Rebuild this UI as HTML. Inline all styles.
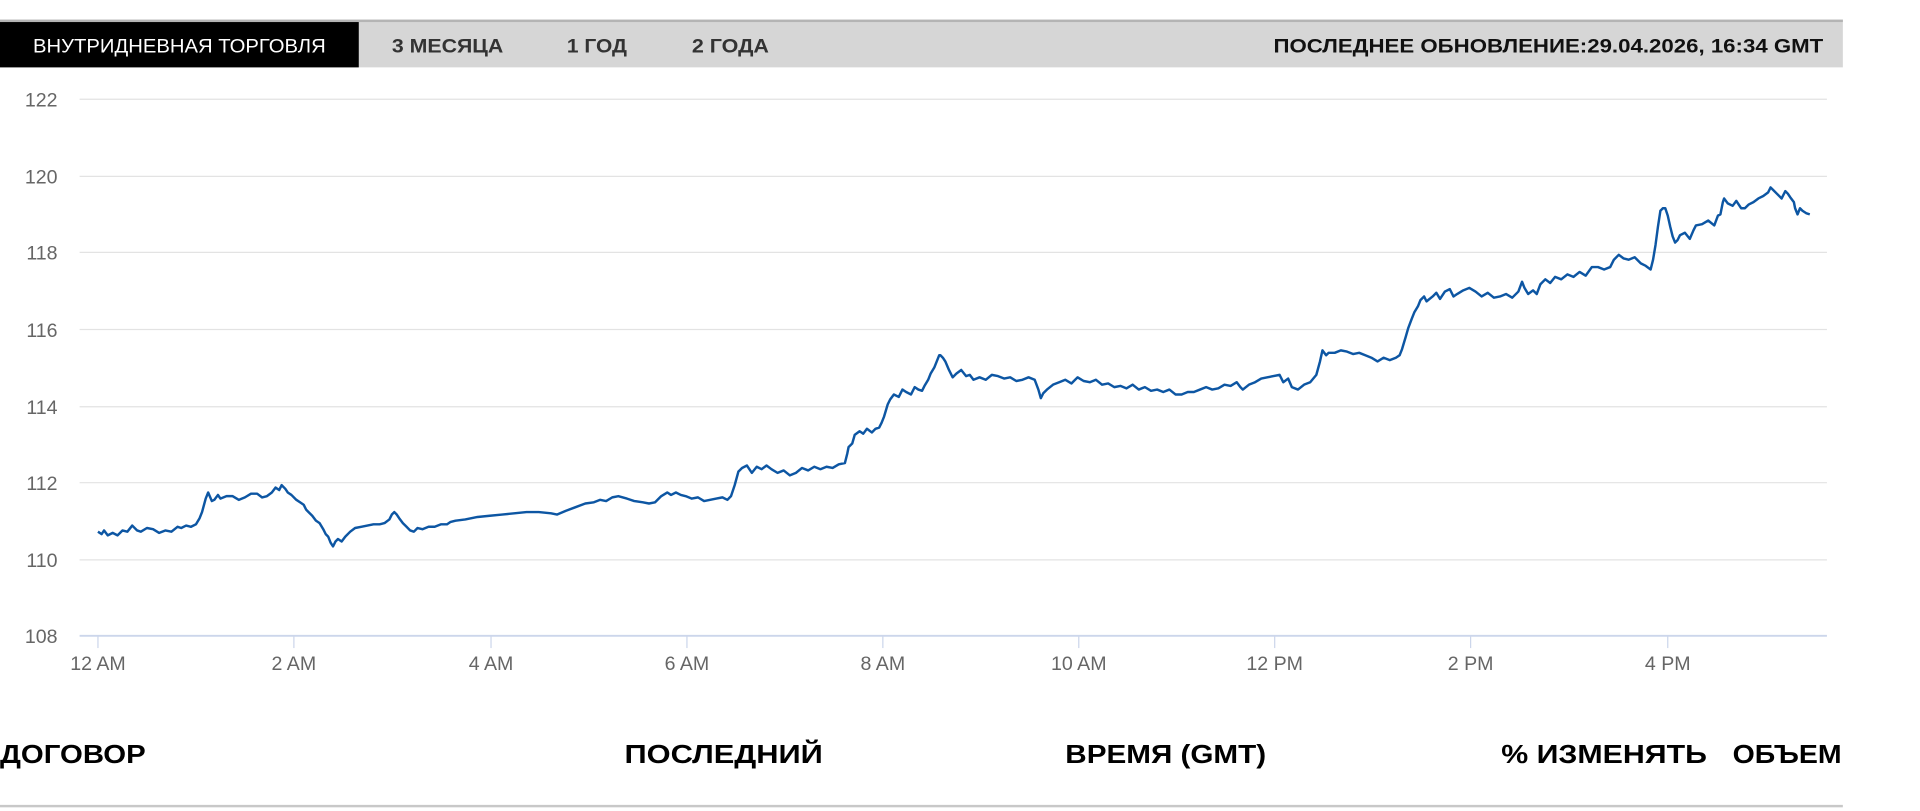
<!DOCTYPE html>
<html><head><meta charset="utf-8"><style>
html,body{margin:0;padding:0;background:#fff;width:1920px;height:811px;overflow:hidden}
svg{display:block}
</style></head><body>
<svg width="1920" height="811" viewBox="0 0 1568 662" preserveAspectRatio="none" xmlns="http://www.w3.org/2000/svg">
<rect x="0" y="16" width="1505" height="39" fill="#d6d6d6"/>
<rect x="0" y="16" width="1505" height="2" fill="#b4b4b4"/>
<rect x="0" y="18" width="293" height="37" fill="#000"/>
<g font-family="Liberation Sans, sans-serif" font-size="16">
<text x="27" y="43" fill="#fff" textLength="239" lengthAdjust="spacingAndGlyphs">ВНУТРИДНЕВНАЯ ТОРГОВЛЯ</text>
<g font-weight="bold" fill="#333">
<text x="320" y="43" textLength="91" lengthAdjust="spacingAndGlyphs">3 МЕСЯЦА</text>
<text x="463" y="43" textLength="49" lengthAdjust="spacingAndGlyphs">1 ГОД</text>
<text x="565" y="43" textLength="63" lengthAdjust="spacingAndGlyphs">2 ГОДА</text>
</g>
<text x="1040" y="43" font-weight="bold" fill="#111" textLength="449" lengthAdjust="spacingAndGlyphs">ПОСЛЕДНЕЕ ОБНОВЛЕНИЕ:29.04.2026, 16:34 GMT</text>
</g>
<g stroke="#e3e3e3" stroke-width="1">
<line x1="65" y1="81" x2="1492" y2="81"/><line x1="65" y1="144" x2="1492" y2="144"/>
<line x1="65" y1="206" x2="1492" y2="206"/><line x1="65" y1="269" x2="1492" y2="269"/>
<line x1="65" y1="332" x2="1492" y2="332"/><line x1="65" y1="394" x2="1492" y2="394"/>
<line x1="65" y1="457" x2="1492" y2="457"/>
</g>
<line x1="65" y1="519" x2="1492" y2="519" stroke="#ccd6eb" stroke-width="1.5"/>
<g stroke="#ccd6eb" stroke-width="1">
<line x1="80" y1="519" x2="80" y2="529"/><line x1="240" y1="519" x2="240" y2="529"/>
<line x1="401" y1="519" x2="401" y2="529"/><line x1="561" y1="519" x2="561" y2="529"/>
<line x1="721" y1="519" x2="721" y2="529"/><line x1="881" y1="519" x2="881" y2="529"/>
<line x1="1041" y1="519" x2="1041" y2="529"/><line x1="1201" y1="519" x2="1201" y2="529"/>
<line x1="1362" y1="519" x2="1362" y2="529"/>
</g>
<g font-family="Liberation Sans, sans-serif" font-size="16" fill="#666">
<text x="47" y="87" text-anchor="end">122</text><text x="47" y="150" text-anchor="end">120</text>
<text x="47" y="212" text-anchor="end">118</text><text x="47" y="275" text-anchor="end">116</text>
<text x="47" y="338" text-anchor="end">114</text><text x="47" y="400" text-anchor="end">112</text>
<text x="47" y="463" text-anchor="end">110</text><text x="47" y="525" text-anchor="end">108</text>
<g text-anchor="middle">
<text x="80" y="547">12 AM</text><text x="240" y="547">2 AM</text><text x="401" y="547">4 AM</text>
<text x="561" y="547">6 AM</text><text x="721" y="547">8 AM</text><text x="881" y="547">10 AM</text>
<text x="1041" y="547">12 PM</text><text x="1201" y="547">2 PM</text><text x="1362" y="547">4 PM</text>
</g></g>
<polyline fill="none" stroke="#0d56a3" stroke-width="2" stroke-linejoin="round" points="80,434 83,436 85,433 88,437 92,435 96,437 100,433 104,434 108,429 112,433 115,434 120,431 125,432 130,435 135,433 140,434 145,430 148,431 152,429 156,430 160,428 163,423 165,418 168,407 170,402 173,409 175,408 178,404 180,407 185,405 190,405 195,408 200,406 205,403 210,403 214,406 218,405 222,402 225,398 228,400 230,396 233,399 235,402 238,404 242,408 245,410 248,412 250,416 252,418 255,421 258,425 261,427 264,432 266,436 268,438 270,443 272,446 274,442 276,440 279,442 282,438 286,434 290,431 295,430 300,429 305,428 310,428 314,427 318,424 320,420 322,418 324,420 326,423 329,427 332,430 335,433 338,434 341,431 345,432 350,430 355,430 360,428 365,428 368,426 372,425 380,424 390,422 400,421 410,420 420,419 430,418 440,418 450,419 455,420 462,417 470,414 478,411 485,410 490,408 495,409 500,406 505,405 512,407 518,409 525,410 530,411 535,410 540,405 545,402 548,404 552,402 556,404 560,405 565,407 570,406 575,409 580,408 585,407 590,406 594,408 597,405 600,396 603,385 606,382 610,380 614,386 618,381 622,383 626,380 630,383 635,386 640,384 645,388 650,386 655,382 660,384 665,381 670,383 675,381 680,382 685,379 690,378 692,370 693,365 696,362 698,355 702,352 705,354 708,350 712,353 715,350 718,349 720,345 722,340 725,330 727,326 730,322 734,324 737,318 740,320 744,322 747,316 750,318 753,319 755,315 758,310 760,305 763,300 765,295 767,290 768,290 770,292 772,295 775,302 778,308 781,305 785,302 789,307 792,306 795,310 800,308 805,310 810,306 815,307 820,309 825,308 830,311 835,310 840,308 845,310 848,318 850,325 852,321 855,318 860,314 865,312 870,310 875,313 880,308 885,311 890,312 895,310 900,314 905,313 910,316 915,315 920,317 925,314 930,318 935,316 940,319 945,318 950,320 955,318 960,322 965,322 970,320 975,320 980,318 985,316 990,318 995,317 1000,314 1005,315 1010,312 1013,316 1015,318 1020,314 1025,312 1030,309 1035,308 1040,307 1045,306 1048,312 1052,309 1055,316 1060,318 1065,314 1070,312 1075,306 1078,295 1080,286 1083,290 1085,288 1090,288 1095,286 1100,287 1105,289 1110,288 1115,290 1120,292 1125,295 1130,292 1135,294 1140,292 1143,290 1145,285 1148,275 1150,268 1153,260 1155,255 1158,250 1160,245 1163,242 1165,246 1170,242 1173,239 1176,244 1180,238 1184,236 1187,242 1190,240 1195,237 1200,235 1205,238 1210,242 1215,239 1220,243 1225,242 1230,240 1235,243 1240,238 1243,230 1245,235 1248,240 1252,237 1255,240 1258,232 1262,228 1266,231 1270,226 1275,228 1280,224 1285,226 1290,222 1295,225 1300,218 1305,218 1310,220 1315,218 1318,212 1322,208 1326,211 1330,212 1335,210 1340,215 1344,217 1348,220 1350,212 1352,200 1354,185 1356,172 1358,170 1360,170 1362,176 1364,185 1366,193 1368,198 1370,196 1372,192 1376,190 1380,195 1383,188 1385,184 1390,183 1395,180 1400,184 1403,176 1405,175 1407,165 1408,162 1411,166 1415,168 1418,164 1422,170 1425,170 1428,167 1432,165 1436,162 1440,160 1444,157 1446,153 1448,155 1451,158 1455,162 1458,156 1460,158 1462,161 1465,165 1466,170 1468,175 1470,170 1472,172 1475,174 1478,175"/>
<g font-family="Liberation Sans, sans-serif" font-size="21" font-weight="bold" fill="#000">
<text x="0" y="623" textLength="119" lengthAdjust="spacingAndGlyphs">ДОГОВОР</text>
<text x="510" y="623" textLength="162" lengthAdjust="spacingAndGlyphs">ПОСЛЕДНИЙ</text>
<text x="870" y="623" textLength="164" lengthAdjust="spacingAndGlyphs">ВРЕМЯ (GMT)</text>
<text x="1226" y="623" textLength="168" lengthAdjust="spacingAndGlyphs">% ИЗМЕНЯТЬ</text>
<text x="1415" y="623" textLength="89" lengthAdjust="spacingAndGlyphs">ОБЪЕМ</text>
</g>
<rect x="0" y="657" width="1505" height="2" fill="#c8c8c8"/>
</svg>
</body></html>
